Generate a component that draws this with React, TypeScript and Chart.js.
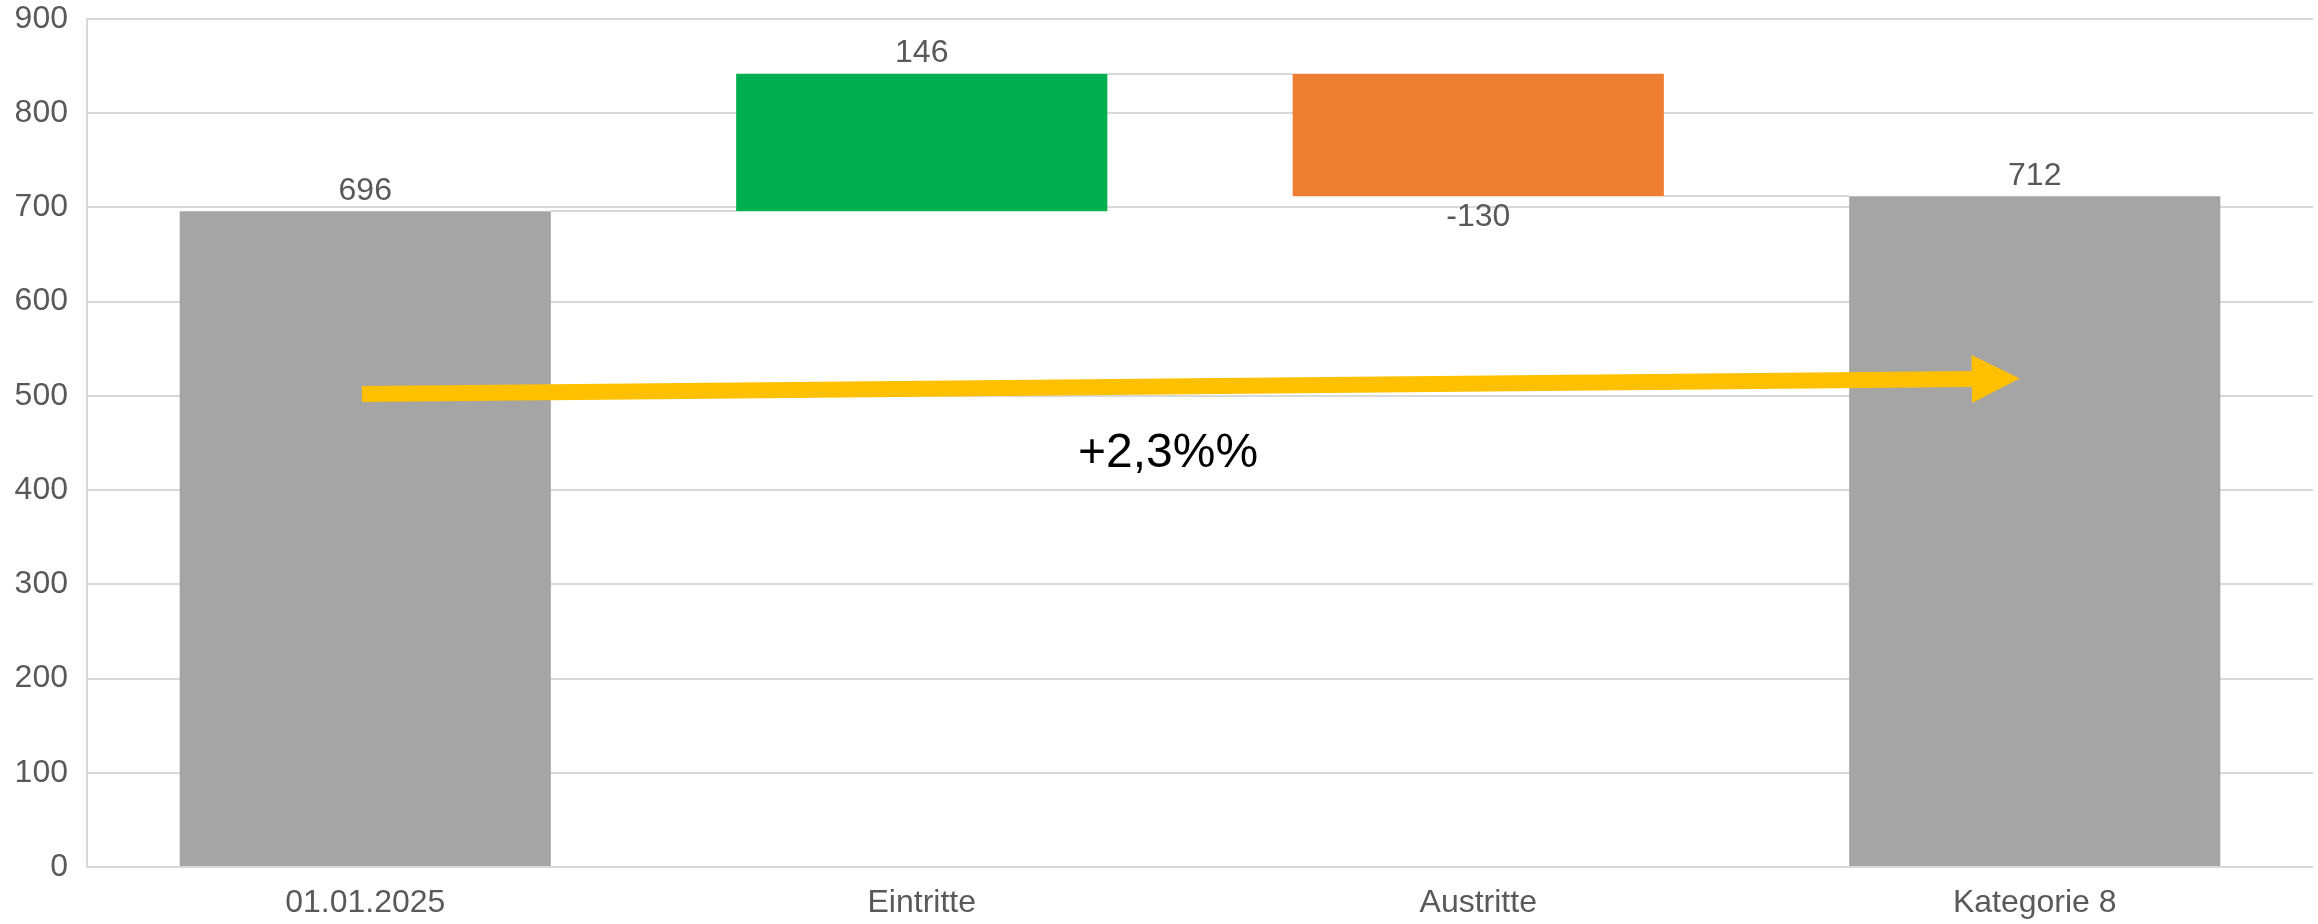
import React, { useEffect, useRef } from "react";
import { Chart, registerables } from "chart.js";

Chart.register(...registerables);

// ---- data ----
const categories = ["01.01.2025", "Eintritte", "Austritte", "Kategorie 8"];
const values = [696, 146, -130, 712];
const kinds = ["total", "delta", "delta", "total"];
const barColors = ["#A5A5A5", "#00B050", "#ED7D31", "#A5A5A5"];
const yTicks = [0, 100, 200, 300, 400, 500, 600, 700, 800, 900];

// annotation (arrow + growth text), in category-index / value coordinates
const arrowStart = { x: -0.006, y: 502 };
const arrowEnd = { x: 2.973, y: 518.5 };
const growthText = "+2,3%%";
const growthPos = { x: 1.4425, y: 439 };

const FONT = "'Liberation Sans', Arial, sans-serif";
const GREY_TEXT = "#595959";
const GRID = "#D9D9D9";
const LABEL_SIZE = 32;

function buildFloating() {
  let run = 0;
  return values.map((v, i) => {
    if (kinds[i] === "total") {
      run = v;
      return [0, v];
    }
    const s = run;
    run = run + v;
    return [s, run];
  });
}

const floating = buildFloating();

const waterfallPlugin = {
  id: "waterfallExtras",
  beforeDatasetsDraw(chart: any) {
    const ctx = chart.ctx;
    const meta = chart.getDatasetMeta(0);
    const yScale = chart.scales.y;
    ctx.save();
    ctx.strokeStyle = GRID;
    ctx.lineWidth = 2;
    for (let i = 0; i < meta.data.length - 1; i++) {
      const a = meta.data[i] as any;
      const b = meta.data[i + 1] as any;
      const level = floating[i][1];
      const y = Math.round(yScale.getPixelForValue(level));
      ctx.beginPath();
      ctx.moveTo(a.x + a.width / 2, y);
      ctx.lineTo(b.x - b.width / 2, y);
      ctx.stroke();
    }
    ctx.restore();
  },
  afterDatasetsDraw(chart: any) {
    const ctx = chart.ctx;
    const meta = chart.getDatasetMeta(0);
    const xScale = chart.scales.x;
    const yScale = chart.scales.y;
    ctx.save();
    // data labels
    ctx.font = `${LABEL_SIZE}px ${FONT}`;
    ctx.fillStyle = GREY_TEXT;
    ctx.textAlign = "center";
    ctx.textBaseline = "middle";
    meta.data.forEach((el: any, i: number) => {
      const top = Math.min(el.y, el.base);
      const bottom = Math.max(el.y, el.base);
      const v = values[i];
      if (v >= 0) {
        ctx.fillText(String(v), el.x, top - 20);
      } else {
        ctx.fillText(String(v), el.x, bottom + 21);
      }
    });

    // arrow
    const x0 = xScale.getPixelForValue(arrowStart.x);
    const y0 = yScale.getPixelForValue(arrowStart.y);
    const x1 = xScale.getPixelForValue(arrowEnd.x);
    const y1 = yScale.getPixelForValue(arrowEnd.y);
    const dx = x1 - x0;
    const dy = y1 - y0;
    const len = Math.sqrt(dx * dx + dy * dy);
    const ux = dx / len;
    const uy = dy / len;
    const px = -uy;
    const py = ux;
    const headLen = 48;
    const headHalf = 24;
    const shaftHalf = 8;
    const bx = x1 - ux * headLen;
    const by = y1 - uy * headLen;
    ctx.fillStyle = "#FFC000";
    ctx.beginPath();
    ctx.moveTo(x0 + px * shaftHalf, y0 + py * shaftHalf);
    ctx.lineTo(bx + px * shaftHalf, by + py * shaftHalf);
    ctx.lineTo(bx + px * headHalf, by + py * headHalf);
    ctx.lineTo(x1, y1);
    ctx.lineTo(bx - px * headHalf, by - py * headHalf);
    ctx.lineTo(bx - px * shaftHalf, by - py * shaftHalf);
    ctx.lineTo(x0 - px * shaftHalf, y0 - py * shaftHalf);
    ctx.closePath();
    ctx.fill();

    // growth text
    ctx.font = `48px ${FONT}`;
    ctx.fillStyle = "#000000";
    ctx.textAlign = "center";
    ctx.textBaseline = "middle";
    ctx.fillText(
      growthText,
      xScale.getPixelForValue(growthPos.x),
      yScale.getPixelForValue(growthPos.y)
    );
    ctx.restore();
  },
};

export default function App() {
  const canvasRef = useRef<HTMLCanvasElement | null>(null);

  useEffect(() => {
    if (!canvasRef.current) return;
    const chart = new Chart(canvasRef.current, {
      type: "bar",
      data: {
        labels: categories,
        datasets: [
          {
            data: floating as any,
            backgroundColor: barColors,
            borderWidth: 0,
            barPercentage: 0.667,
            categoryPercentage: 1,
          },
        ],
      },
      options: {
        animation: false,
        responsive: true,
        maintainAspectRatio: false,
        layout: { padding: { top: 19, right: 5, left: 0, bottom: 0 } },
        plugins: {
          legend: { display: false },
          tooltip: { enabled: false },
        },
        scales: {
          x: {
            grid: { display: false, drawTicks: false },
            border: { display: false },
            ticks: {
              font: { family: FONT, size: LABEL_SIZE },
              color: GREY_TEXT,
              padding: 17,
            },
            afterFit: (scale: any) => {
              scale.height = 57;
              scale.paddingLeft = 0;
              scale.paddingRight = 0;
            },
          },
          y: {
            min: 0,
            max: 900,
            afterBuildTicks: (scale: any) => {
              scale.ticks = yTicks.map((v) => ({ value: v }));
            },
            grid: { color: GRID, lineWidth: 2, drawTicks: false },
            border: { display: true, color: GRID, width: 2 },
            ticks: {
              font: { family: FONT, size: LABEL_SIZE },
              color: GREY_TEXT,
              padding: 19,
            },
            afterFit: (scale: any) => {
              scale.width = 87;
              scale.paddingTop = 0;
              scale.paddingBottom = 0;
            },
          },
        },
      },
      plugins: [waterfallPlugin],
    });
    return () => chart.destroy();
  }, []);

  return (
    <div
      style={{
        position: "fixed",
        left: 0,
        top: 0,
        width: 2318,
        height: 924,
        background: "#FFFFFF",
      }}
    >
      <canvas ref={canvasRef} />
    </div>
  );
}
